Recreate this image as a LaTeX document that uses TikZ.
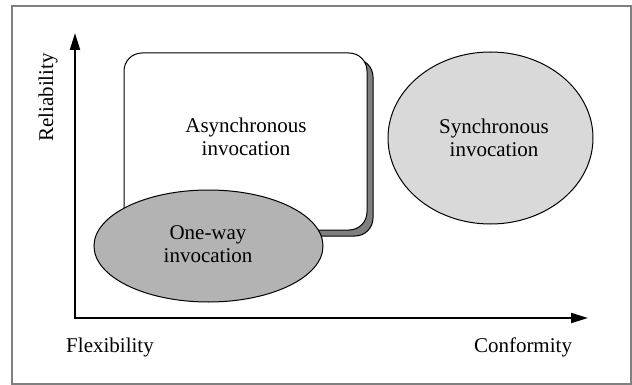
\documentclass[tikz,border=0pt]{standalone}
\usepackage{fontspec}
\setmainfont{Liberation Serif}
\usetikzlibrary{arrows.meta,shapes.geometric}

\definecolor{framegray}{HTML}{808080}
\definecolor{shadowgray}{HTML}{7F7F7F}
\definecolor{onewayfill}{HTML}{B3B3B3}
\definecolor{syncfill}{HTML}{D9D9D9}

\tikzset{
  lbl/.style={font=\fontsize{21}{23}\selectfont, align=center, inner sep=0pt},
  regionbox/.style={draw=black, line width=1pt, rounded corners=18pt, inner sep=0pt},
  region/.style={ellipse, draw=black, line width=1pt, inner sep=0pt},
  axis/.style={line width=2pt, -{Triangle[length=17pt,width=10pt]}},
}

\begin{document}
\begin{tikzpicture}[x=1pt,y=-1pt]
  \useasboundingbox (0,0) rectangle (632,385);
  % outer frame
  \draw[framegray, line width=1.5pt] (12,6) rectangle (631,384);

  % asynchronous invocation: rounded box with a solid offset shadow
  \node[regionbox, fill=shadowgray, minimum width=243pt, minimum height=177pt]
    (asyncshadow) at (251.5,147.5) {};
  \node[regionbox, fill=white, minimum width=243pt, minimum height=177pt]
    (async) at (245.5,141.5) {};
  \node[lbl] (asynctext) at (246,136.5) {Asynchronous\\invocation};

  % synchronous invocation
  \node[region, fill=syncfill, minimum width=205pt, minimum height=172pt]
    (sync) at (490.5,138) {};
  \node[lbl] (synctext) at (494,138) {Synchronous\\invocation};

  % one-way invocation
  \node[region, fill=onewayfill, minimum width=229pt, minimum height=112pt]
    (oneway) at (208.5,246) {};
  \node[lbl] (onewaytext) at (208,244.5) {One-way\\invocation};

  % axes
  \coordinate (origin) at (75,318);
  \coordinate (ytip) at (75,33);
  \coordinate (xtip) at (588,318);
  \draw[axis] ([xshift=0pt]origin) -- (ytip);
  \draw[axis] ([xshift=-1pt]origin) -- (xtip);

  % axis labels
  \node[lbl, rotate=90] (reliability) at (48,97.5) {Reliability};
  \node[lbl] (flexibility) at (110,347) {Flexibility};
  \node[lbl] (conformity) at (523,347) {Conformity};
\end{tikzpicture}
\end{document}
